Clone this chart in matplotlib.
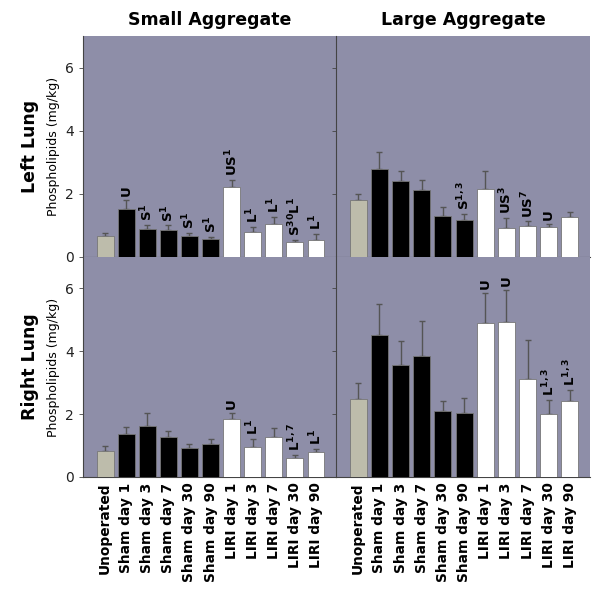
import numpy as np
import matplotlib
matplotlib.use('Agg')
import matplotlib.pyplot as plt

plt.rcParams['font.family'] = ['DejaVu Sans']
plt.rcParams['mathtext.default'] = 'bf'

groups = ["Unoperated", "Sham day 1", "Sham day 3", "Sham day 7", "Sham day 30",
          "Sham day 90", "LIRI day 1", "LIRI day 3", "LIRI day 7", "LIRI day 30",
          "LIRI day 90"]

# mean values and upper error (top of error bar)
left_small = [0.68, 1.53, 0.88, 0.87, 0.68, 0.57, 2.23, 0.80, 1.03, 0.47, 0.55]
left_small_err = [0.77, 1.81, 1.02, 1.00, 0.77, 0.64, 2.44, 0.96, 1.26, 0.55, 0.72]
left_small_lbl = ["", "U", "S$^{1}$", "S$^{1}$", "S$^{1}$", "S$^{1}$", "US$^{1}$",
                  "L$^{1}$", "L$^{1}$", "S$^{30}$L$^{1}$", "L$^{1}$"]

left_large = [1.80, 2.78, 2.40, 2.13, 1.29, 1.17, 2.15, 0.91, 0.99, 0.94, 1.26]
left_large_err = [2.01, 3.34, 2.71, 2.43, 1.58, 1.37, 2.71, 1.23, 1.13, 1.06, 1.44]
left_large_lbl = ["", "", "", "", "", "S$^{1,3}$", "", "US$^{3}$", "US$^{7}$", "U", ""]

right_small = [0.82, 1.37, 1.62, 1.28, 0.93, 1.05, 1.84, 0.97, 1.27, 0.60, 0.78]
right_small_err = [0.98, 1.60, 2.05, 1.47, 1.05, 1.21, 2.04, 1.21, 1.57, 0.70, 0.89]
right_small_lbl = ["", "", "", "", "", "", "U", "L$^{1}$", "", "L$^{1,7}$", "L$^{1}$"]

right_large = [2.49, 4.51, 3.57, 3.84, 2.11, 2.04, 4.91, 4.94, 3.12, 2.00, 2.41]
right_large_err = [3.00, 5.50, 4.32, 4.97, 2.42, 2.52, 5.87, 5.96, 4.37, 2.46, 2.76]
right_large_lbl = ["", "", "", "", "", "", "U", "U", "", "L$^{1,3}$", "L$^{1,3}$"]

bar_colors = ['#bdbcab'] + ['#000000'] * 5 + ['#ffffff'] * 5
bg = '#8e8ea8'

fig = plt.figure(figsize=(6.0, 5.89), dpi=100)
x0, xm, x1 = 83 / 600, 336 / 600, 590 / 600
ytop, ymid, ybot = 1 - 36 / 589, 1 - 257 / 589, 1 - 477 / 589

panels = [
    ((x0, ymid, xm - x0, ytop - ymid), left_small, left_small_err, left_small_lbl, 'tl'),
    ((xm, ymid, x1 - xm, ytop - ymid), left_large, left_large_err, left_large_lbl, 'tr'),
    ((x0, ybot, xm - x0, ymid - ybot), right_small, right_small_err, right_small_lbl, 'bl'),
    ((xm, ybot, x1 - xm, ymid - ybot), right_large, right_large_err, right_large_lbl, 'br'),
]

x = np.arange(len(groups))
for rect, vals, errtop, lbls, pos in panels:
    ax = fig.add_axes(rect)
    ax.set_facecolor(bg)
    vals = np.array(vals)
    err = np.array(errtop) - vals
    ax.bar(x, vals, width=0.8, color=bar_colors, edgecolor='#777777', linewidth=0.6,
           zorder=3)
    ax.errorbar(x, vals, yerr=[np.zeros_like(err), err], fmt='none',
                ecolor='#555555', elinewidth=1.0, capsize=2.5, capthick=1.0, zorder=2)
    for xi, top, lab in zip(x, errtop, lbls):
        if lab:
            ax.text(xi, top + 0.12, lab, rotation=90, ha='center', va='bottom',
                    fontsize=9.5, fontweight='bold', zorder=4)
    ax.set_xlim(-1.05, 10.95)
    ax.set_ylim(0, 7)
    ax.set_yticks([0, 2, 4, 6])
    for s in ['top', 'right']:
        ax.spines[s].set_visible(False)
    ax.spines['left'].set_color('#444444')
    ax.spines['left'].set_linewidth(0.8)
    ax.spines['bottom'].set_color('#444444')
    ax.spines['bottom'].set_linewidth(0.8)
    ax.tick_params(axis='y', length=3, width=0.6, colors='#444444', labelsize=10,
                   labelcolor='#222222')
    ax.tick_params(axis='x', length=0, pad=4)
    if pos in ('tr', 'br'):
        ax.set_yticklabels([])
    else:
        ax.set_ylabel('Phospholipids (mg/kg)', fontsize=9, labelpad=4)
    if pos in ('bl', 'br'):
        ax.set_xticks(x)
        ax.set_xticklabels(groups, rotation=90, fontsize=9.9, fontweight='bold')
    else:
        ax.set_xticks([])
    if pos == 'tl':
        ax.set_title('Small Aggregate', fontsize=12.5, fontweight='bold', pad=8)
    if pos == 'tr':
        ax.set_title('Large Aggregate', fontsize=12.5, fontweight='bold', pad=8)

fig.text(30 / 600, (ytop + ymid) / 2, 'Left Lung', rotation=90, ha='center',
         va='center', fontsize=12.5, fontweight='bold')
fig.text(30 / 600, (ymid + ybot) / 2, 'Right Lung', rotation=90, ha='center',
         va='center', fontsize=12.5, fontweight='bold')

fig.savefig('out.png', dpi=100)
